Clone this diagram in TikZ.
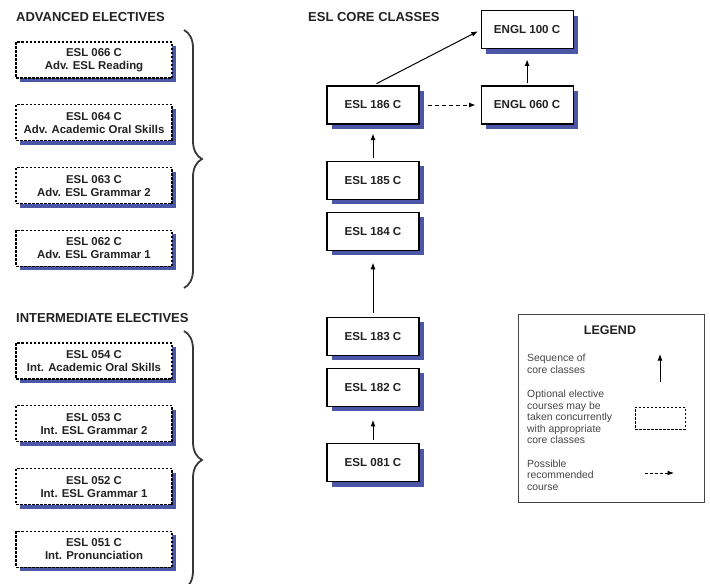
\documentclass[tikz,border=0pt]{standalone}
\usepackage{fontspec}
\setmainfont{Liberation Sans}
\usetikzlibrary{positioning, shadows, arrows.meta, decorations.pathreplacing}
\definecolor{shade}{HTML}{4B57A6}
\definecolor{ink}{HTML}{222222}
\definecolor{soft}{HTML}{444444}

\begin{document}
\begin{tikzpicture}[x=1pt, y=-1pt, >={Latex[length=6.5pt,width=5pt]},
    core/.style = {draw, line width=1.1pt, fill=white, minimum width=92pt, minimum height=38pt, inner sep=0pt, text=ink, font=\bfseries\fontsize{11.6}{13}\selectfont, drop shadow={shadow xshift=5pt, shadow yshift=-5pt, fill=shade, opacity=1}},
    elective/.style = {draw, line width=1.1pt, dash pattern=on 2.5pt off 1.5pt, fill=white, minimum width=156pt, minimum height=36pt, inner sep=0pt, align=center, text=ink, font=\bfseries\fontsize{11.4}{13}\selectfont, drop shadow={shadow xshift=4pt, shadow yshift=-4pt, fill=shade, opacity=1}},
    head/.style = {anchor=west, inner sep=0pt, text=ink, font=\bfseries\fontsize{13}{14}\selectfont},
    note/.style = {anchor=west, align=left, inner sep=0pt, text=soft, font=\fontsize{10.4}{11.6}\selectfont},
    seq/.style = {->, line width=1pt},
    bracket/.style = {decorate, decoration={brace, amplitude=18pt}, line width=1.8pt, color=ink!90}]
    \useasboundingbox (0,0) rectangle (710,584);

    % headings
    \node[head] (adv) at (16,17) {ADVANCED ELECTIVES};
    \node[head] (int) at (16,318) {INTERMEDIATE ELECTIVES};
    \node[head] (cor) at (308,17) {ESL CORE CLASSES};

    % advanced electives
    \node[elective] (066) at (94,60) {ESL 066 C\\Adv. ESL Reading};
    \node[elective] (064) [below=25.7pt of 066] {ESL 064 C\\Adv. Academic Oral Skills};
    \node[elective] (063) [below=25.7pt of 064] {ESL 063 C\\Adv. ESL Grammar 2};
    \node[elective] (062) [below=25.7pt of 063] {ESL 062 C\\Adv. ESL Grammar 1};

    % intermediate electives
    \node[elective] (054) at (94,361) {ESL 054 C\\Int. Academic Oral Skills};
    \node[elective] (053) [below=25.7pt of 054] {ESL 053 C\\Int. ESL Grammar 2};
    \node[elective] (052) [below=25.7pt of 053] {ESL 052 C\\Int. ESL Grammar 1};
    \node[elective] (051) [below=25.7pt of 052] {ESL 051 C\\Int. Pronunciation};

    \coordinate (b1) at (184,30);
    \coordinate (b2) at (184,288);
    \coordinate (b3) at (184,331);
    \coordinate (b4) at (184,589);
    \draw[bracket] (b1) -- (b2);
    \draw[bracket] (b3) -- (b4);

    % core classes
    \node[core] (186) at (373,105) {ESL 186 C};
    \node[core] (E060) [right=61pt of 186] {ENGL 060 C};
    \node[core] (E100) [above=36pt of E060] {ENGL 100 C};
    \node[core] (185) [below=36pt of 186] {ESL 185 C};
    \node[core] (184) [below=12pt of 185] {ESL 184 C};
    \node[core] (183) [below=66pt of 184] {ESL 183 C};
    \node[core] (182) [below=12pt of 183] {ESL 182 C};
    \node[core] (081) [below=36pt of 182] {ESL 081 C};

    \draw[seq, shorten <=3pt, shorten >=13pt] (081) -- (182);
    \draw[seq, shorten <=4pt, shorten >=12pt] (183) -- (184);
    \draw[seq, shorten <=3pt, shorten >=9pt] (185) -- (186);
    \draw[seq, shorten <=4pt, shorten >=3pt] (186.north) -- (E100.west);
    \draw[seq, shorten <=2pt, shorten >=10pt] (E060) -- (E100);
    \draw[seq, dash pattern=on 4pt off 3pt, shorten <=8pt, shorten >=5pt] (186) -- (E060);

    % legend
    \node[draw=soft, line width=1pt, minimum width=186pt, minimum height=188pt] (legend) at (611,408) {};
    \node[inner sep=0pt, text=ink, font=\bfseries\fontsize{12.5}{14}\selectfont] (lt) at (610,330) {LEGEND};
    \node[note] (n1) at (527,364) {Sequence of\\core classes};
    \node[note] (n2) at (527,417) {Optional elective\\courses may be\\taken concurrently\\with appropriate\\core classes};
    \node[note] (n3) at (527,475) {Possible\\recommended\\course};
    \coordinate (s1) at (660,382);
    \coordinate (s2) at (660,354);
    \draw[seq] (s1) -- (s2);
    \node[draw, line width=1pt, dash pattern=on 2.5pt off 1.5pt, minimum width=50pt, minimum height=22pt] (opt) at (660,418) {};
    \coordinate (r1) at (645,473);
    \coordinate (r2) at (674,473);
    \draw[seq, dash pattern=on 3pt off 2pt] (r1) -- (r2);
\end{tikzpicture}
\end{document}
